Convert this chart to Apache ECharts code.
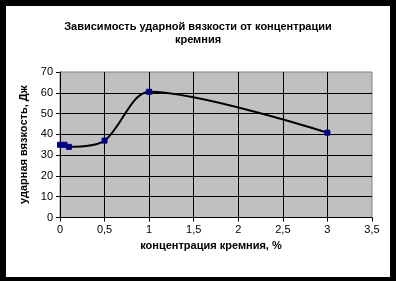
<!DOCTYPE html>
<html>
<head>
<meta charset="utf-8">
<script src="https://cdn.jsdelivr.net/npm/echarts@6/dist/echarts.min.js"></script>
<style>
html,body{margin:0;padding:0;background:#000;}
#c{width:396px;height:281px;}
</style>
</head>
<body>
<div id="c"></div>
<script>
const titleText = 'Зависимость ударной вязкости от концентрации\nкремния';
const xName = 'концентрация кремния, %';
const yName = 'ударная вязкость, Дж';
const siliconPct = [0, 0.05, 0.1, 0.5, 1, 3];
const impactJ = [35, 35, 34, 37, 60.5, 40.8];

const chart = echarts.init(document.getElementById('c'), null, {renderer: 'canvas'});
const font = '"Liberation Sans", Arial, sans-serif';
chart.setOption({
  backgroundColor: '#000',
  animation: false,
  graphic: [{
    type: 'rect', z: -10, silent: true,
    shape: {x: 6, y: 6, width: 384, height: 271},
    style: {fill: '#fff'}
  }],
  title: {
    text: titleText, left: 'center', top: 15,
    textStyle: {fontFamily: font, fontSize: 11, fontWeight: 'bold', color: '#000', lineHeight: 13}
  },
  grid: {
    left: 60, right: 24, top: 72, bottom: 63.5,
    show: true, backgroundColor: '#C0C0C0', borderColor: '#808080', borderWidth: 1
  },
  xAxis: {
    type: 'value', min: 0, max: 3.5, interval: 0.5,
    name: xName, nameLocation: 'middle', nameGap: 18,
    nameTextStyle: {fontFamily: font, fontSize: 11, fontWeight: 'bold', color: '#000', padding: [0, 10, 0, 0]},
    axisLine: {show: true, onZero: false, lineStyle: {color: '#000', width: 1}},
    axisTick: {show: true, length: 4, lineStyle: {color: '#000'}},
    axisLabel: {fontFamily: font, fontSize: 11, color: '#000', margin: 7,
      formatter: v => String(v).replace('.', ',')},
    splitLine: {show: true, showMinLine: false, showMaxLine: false, lineStyle: {color: '#000', width: 1}}
  },
  yAxis: {
    type: 'value', min: 0, max: 70, interval: 10,
    name: yName, nameLocation: 'middle', nameGap: 27, nameRotate: 90,
    nameTextStyle: {fontFamily: font, fontSize: 11, fontWeight: 'bold', color: '#000'},
    axisLine: {show: true, lineStyle: {color: '#000', width: 1}},
    axisTick: {show: true, length: 4, lineStyle: {color: '#000'}},
    axisLabel: {fontFamily: font, fontSize: 11, color: '#000', margin: 7},
    splitLine: {show: true, showMinLine: false, showMaxLine: false, lineStyle: {color: '#000', width: 1}}
  },
  series: [{
    type: 'line',
    data: siliconPct.map((x, i) => [x, impactJ[i]]),
    smooth: 0.3,
    symbol: 'rect', symbolSize: 5,
    itemStyle: {color: '#000080', borderColor: '#000080'},
    lineStyle: {color: '#000', width: 2}
  }]
});
</script>
</body>
</html>
